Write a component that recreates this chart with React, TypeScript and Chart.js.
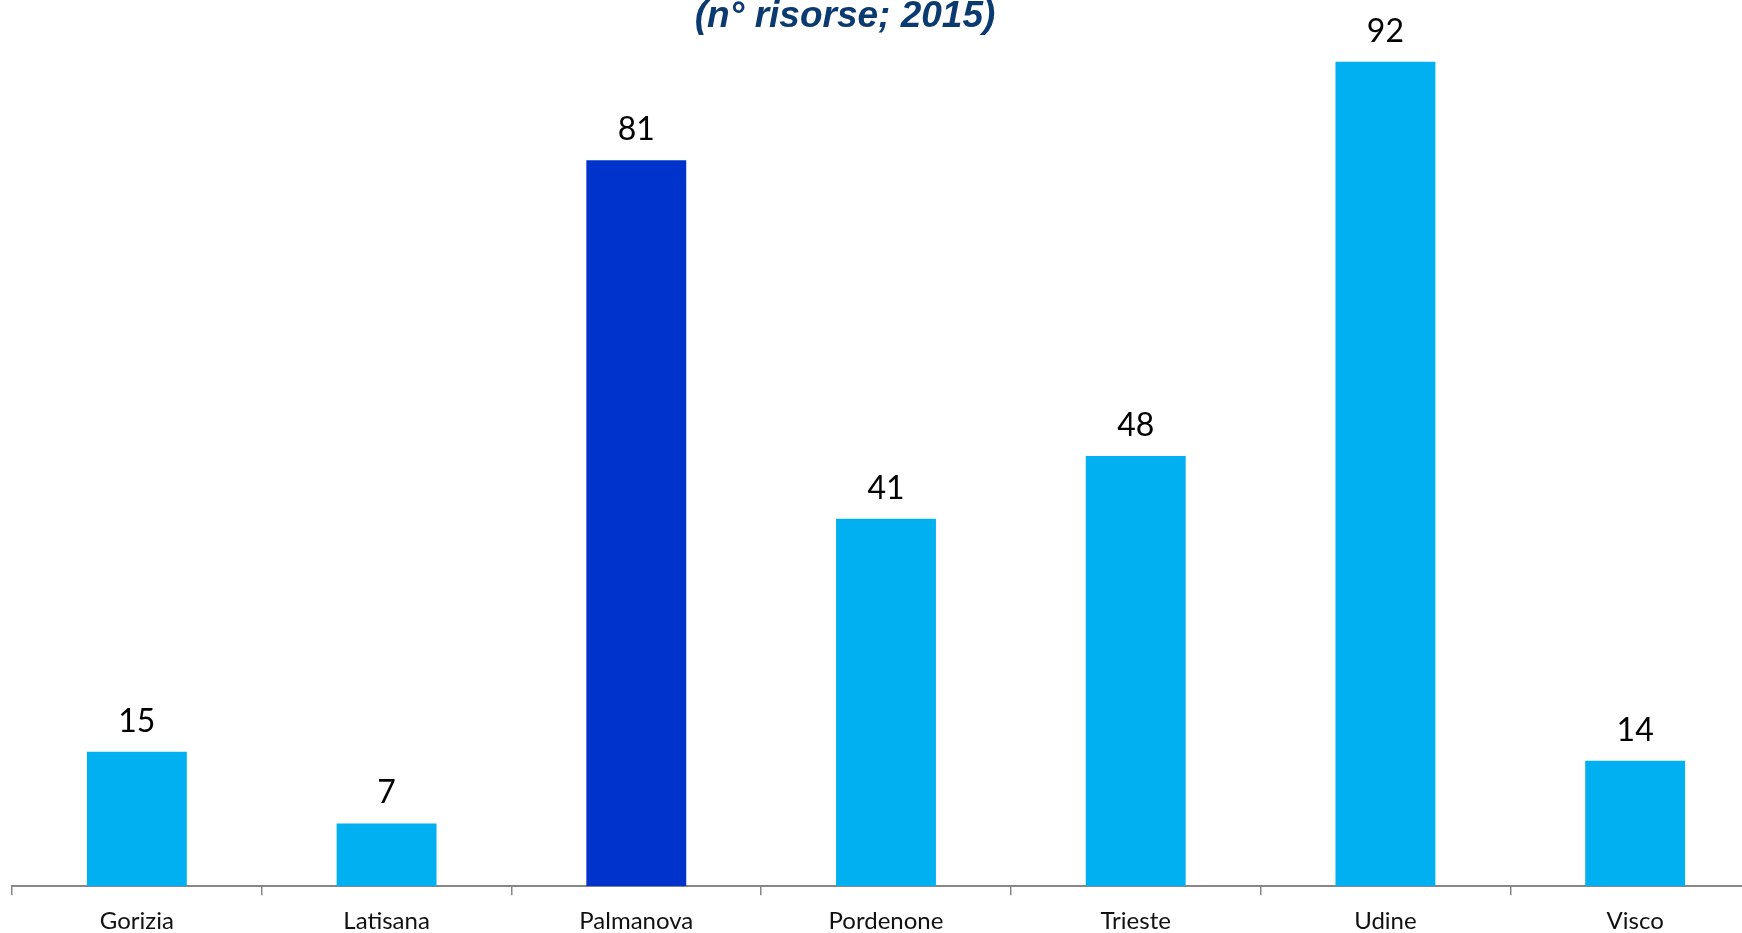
import React, { useEffect, useRef } from "react";
import { Chart, registerables } from "chart.js";

Chart.register(...registerables);

const categories = ["Gorizia", "Latisana", "Palmanova", "Pordenone", "Trieste", "Udine", "Visco"];
const values = [15, 7, 81, 41, 48, 92, 14];
const barColors = ["#00B0F0", "#00B0F0", "#0033CC", "#00B0F0", "#00B0F0", "#00B0F0", "#00B0F0"];
const titleText = "(n° risorse; 2015)";

const valueLabels = {
  id: "valueLabels",
  afterDatasetsDraw(chart: any) {
    const ctx = chart.ctx;
    const meta = chart.getDatasetMeta(0);
    const data = chart.data.datasets[0].data;
    ctx.save();
    ctx.font = "32px Lato";
    ctx.fillStyle = "#000000";
    ctx.textAlign = "center";
    ctx.textBaseline = "alphabetic";
    meta.data.forEach((bar: any, i: number) => {
      ctx.fillText(String(data[i]), bar.x, bar.y - 20);
    });
    ctx.restore();
  },
};

export default function App() {
  const ref = useRef<HTMLCanvasElement>(null);
  useEffect(() => {
    if (!ref.current) return;
    const chart = new Chart(ref.current, {
      type: "bar",
      data: {
        labels: categories,
        datasets: [
          {
            data: values,
            backgroundColor: barColors,
            borderWidth: 0,
            categoryPercentage: 0.8,
            barPercentage: 0.5,
          },
        ],
      },
      options: {
        responsive: false,
        animation: false,
        devicePixelRatio: 1,
        layout: { padding: { left: 12, right: 20, top: 50, bottom: 0 } },
        plugins: { legend: { display: false }, tooltip: { enabled: false }, title: { display: false } },
        scales: {
          y: { display: false, min: 0, max: 100 },
          x: {
            offset: true,
            border: { display: true, color: "#878787", width: 2 },
            grid: {
              display: true,
              offset: true,
              drawOnChartArea: false,
              drawTicks: true,
              tickLength: 9,
              color: "#878787",
              lineWidth: 1.5,
            },
            ticks: {
              color: "#111111",
              padding: 12,
              font: { family: "Lato", size: 24 },
            },
          },
        },
      },
      plugins: [valueLabels],
    });
    return () => chart.destroy();
  }, []);

  return (
    <div
      style={{
        position: "fixed",
        left: 0,
        top: 0,
        width: 1742,
        height: 933,
        overflow: "hidden",
        background: "#ffffff",
      }}
    >
      <canvas
        ref={ref}
        width={1780}
        height={1008}
        style={{ position: "absolute", left: 0, top: -60, width: 1780, height: 1008 }}
      />
      <div
        style={{
          position: "absolute",
          left: 545,
          width: 600,
          top: -4,
          textAlign: "center",
          font: "italic bold 37px 'Liberation Sans', Arial, sans-serif",
          lineHeight: "37px",
          color: "#0B3A70",
          whiteSpace: "nowrap",
        }}
      >
        {titleText}
      </div>
    </div>
  );
}
